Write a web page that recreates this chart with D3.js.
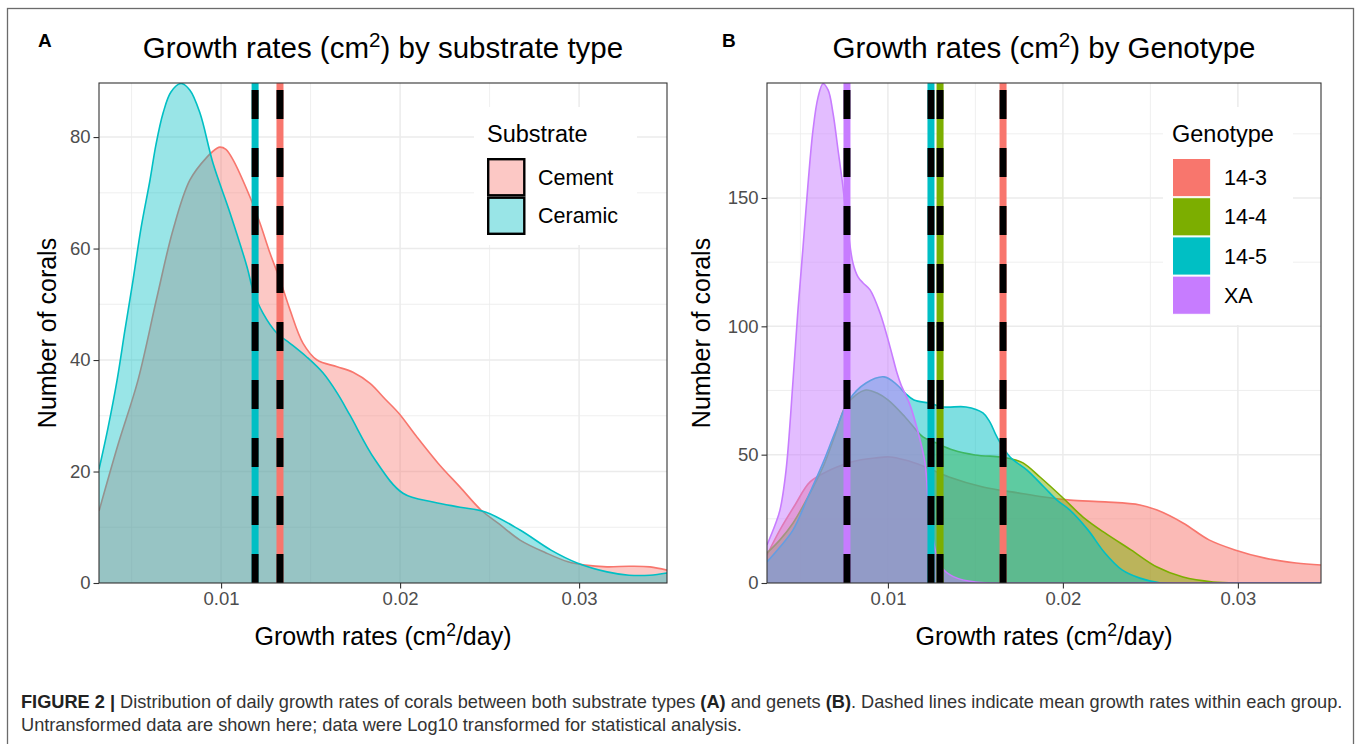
<!DOCTYPE html>
<html>
<head>
<meta charset="utf-8">
<script src="https://cdn.jsdelivr.net/npm/d3@7"></script>
<style>
  body { margin: 0; background: #fff; }
  text { font-family: "Liberation Sans", Arial, Helvetica, sans-serif; }
</style>
</head>
<body>
<div id="chart"></div>
<script>
// ---- data ----
// Panel A: substrate
var substrates = ["Cement", "Ceramic"];
var cementRate = [0.00318,0.00424,0.00536,0.00642,0.00731,0.00826,0.00921,0.00977,0.00994,0.01027,0.01067,0.01162,0.01217,0.01273,0.01329,0.01385,0.01458,0.01536,0.01648,0.01737,0.01832,0.01916,0.01994,0.02089,0.02212,0.02335,0.02452,0.02553,0.02670,0.02815,0.02938,0.03033,0.03156,0.03279,0.03396,0.03491];
var cementCount = [12.9,24.8,36.4,51.3,63.3,72.3,76.4,78.0,78.2,77.8,75.9,69.2,64.6,59.2,54.4,49.0,43.0,40.0,38.8,37.8,35.8,33.0,30.4,26.4,21.5,17.2,13.1,10.6,7.7,5.4,3.8,3.2,2.9,3.0,2.9,2.3];
var ceramicRate = [0.00318,0.00368,0.00419,0.00463,0.00508,0.00553,0.00603,0.00636,0.00676,0.00720,0.00776,0.00826,0.00882,0.00955,0.01050,0.01145,0.01178,0.01234,0.01312,0.01385,0.01480,0.01569,0.01648,0.01720,0.01860,0.02016,0.02190,0.02335,0.02480,0.02670,0.02843,0.02989,0.03156,0.03279,0.03396,0.03491];
var ceramicCount = [20.4,27.8,36.4,45.4,54.3,63.7,72.3,78.6,84.3,88.1,89.6,88.4,84.3,75.3,66.4,56.7,52.6,48.4,44.8,43.0,40.5,37.7,34.1,30.1,22.1,16.1,14.5,13.6,12.7,9.5,5.9,3.6,2.0,1.4,1.4,1.8];
var substrateMeans = [0.01329, 0.01190];

// Panel B: genotype
var genotypes = ["14-3", "14-4", "14-5", "XA"];
var g143Rate = [0.00309,0.00383,0.00469,0.00555,0.00669,0.00755,0.00840,0.00926,0.01012,0.01098,0.01200,0.01349,0.01543,0.01743,0.01892,0.02040,0.02240,0.02440,0.02538,0.02686,0.02835,0.02983,0.03155,0.03332,0.03475];
var g143Count = [10.9,20.7,30.4,39.4,44.0,46.4,47.9,48.7,49.1,47.9,45.6,41.3,37.4,35.1,33.5,32.3,31.6,30.4,28.4,23.4,16.8,12.9,9.7,7.8,7.0];
var g144Rate = [0.00309,0.00383,0.00458,0.00543,0.00629,0.00698,0.00755,0.00818,0.00875,0.00938,0.01000,0.01098,0.01200,0.01275,0.01372,0.01498,0.01646,0.01709,0.01772,0.01869,0.01995,0.02115,0.02240,0.02389,0.02538,0.02686,0.02858,0.03035,0.03475];
var g144Count = [11.7,16.8,23.4,33.5,45.2,57.7,68.6,73.3,75.2,74.0,71.3,64.7,56.9,54.6,51.8,49.9,49.1,48.3,46.8,41.3,33.5,25.7,19.5,12.9,6.2,2.3,0.4,0,0];
var g145Rate = [0.00309,0.00383,0.00458,0.00543,0.00629,0.00703,0.00778,0.00875,0.00978,0.01052,0.01098,0.01149,0.01235,0.01320,0.01446,0.01543,0.01583,0.01623,0.01698,0.01795,0.01892,0.01966,0.02040,0.02143,0.02240,0.02338,0.02440,0.02560,0.03000,0.03475];
var g145Count = [8.2,14.0,20.7,33.5,46.8,59.6,71.3,77.9,80.3,77.2,74.0,71.3,70.1,68.6,68.6,66.3,62.7,56.9,49.1,44.0,37.4,32.3,28.4,20.7,11.7,5.1,1.9,0,0,0];
var xaRate = [0.00309,0.00355,0.00383,0.00418,0.00458,0.00486,0.00515,0.00543,0.00572,0.00600,0.00629,0.00658,0.00686,0.00715,0.00738,0.00772,0.00800,0.00829,0.00858,0.00898,0.00955,0.01012,0.01052,0.01075,0.01126,0.01172,0.01212,0.01235,0.01258,0.01275,0.01320,0.01395,0.01498,0.01583,0.02500,0.03475];
var xaCount = [14.8,22.6,28.4,44.0,79.1,106.4,130.9,155.1,176.5,189.0,194.5,192.1,183.2,168.7,157.1,137.6,124.7,119.3,116.9,114.2,105.2,92.0,81.8,77.2,69.4,58.8,46.8,27.3,17.5,11.7,5.1,1.9,0.4,0,0,0];
var genotypeMeans = [0.01658, 0.01298, 0.01246, 0.00766];

// ticks
var xTicks = [0.01, 0.02, 0.03];
var xMinor = [0.005, 0.015, 0.025, 0.035];
var yTicksA = [0, 20, 40, 60, 80];
var yMinorA = [10, 30, 50, 70];
var yTicksB = [0, 50, 100, 150];
var yMinorB = [25, 75, 125, 175];

var colA = ["#F8766D", "#00BFC4"];
var colB = ["#F8766D", "#7CAE00", "#00BFC4", "#C77CFF"];

var svgWidth = 1358, svgHeight = 744;

var svg = d3.select("#chart").append("svg")
  .attr("width", svgWidth)
  .attr("height", svgHeight);

svg.append("rect").attr("width", svgWidth).attr("height", svgHeight).attr("fill", "#fff");

// figure frame
svg.append("rect")
  .attr("x", 7.5).attr("y", 8.5)
  .attr("width", 1346).attr("height", 760)
  .attr("fill", "none").attr("stroke", "#6b6b6b").attr("stroke-width", 1.3);

// text with a superscript in it
function supText(sel, before, sup, after, size) {
  sel.append("tspan").text(before);
  sel.append("tspan").text(sup).attr("dy", -size * 0.38).attr("font-size", size * 0.7);
  sel.append("tspan").text(after).attr("dy", size * 0.38);
}

function drawPanel(p) {
  var w = p.right - p.left, h = p.bottom - p.top;
  var x = d3.scaleLinear().domain(p.xDomain).range([0, w]);
  var y = d3.scaleLinear().domain([0, p.yMax]).range([h, 0]);

  var g = svg.append("g").attr("transform", `translate(${p.left}, ${p.top})`);

  svg.append("clipPath").attr("id", "clip" + p.id)
    .append("rect").attr("width", w).attr("height", h);

  // gridlines
  var grid = g.append("g").attr("clip-path", `url(#clip${p.id})`);
  grid.selectAll(".xmin").data(xMinor).enter().append("line")
    .attr("x1", d => x(d)).attr("x2", d => x(d)).attr("y1", 0).attr("y2", h)
    .attr("stroke", "#ebebeb").attr("stroke-width", 0.8);
  grid.selectAll(".ymin").data(p.yMinor).enter().append("line")
    .attr("y1", d => y(d)).attr("y2", d => y(d)).attr("x1", 0).attr("x2", w)
    .attr("stroke", "#ebebeb").attr("stroke-width", 0.8);
  grid.selectAll(".xmaj").data(xTicks).enter().append("line")
    .attr("x1", d => x(d)).attr("x2", d => x(d)).attr("y1", 0).attr("y2", h)
    .attr("stroke", "#ebebeb").attr("stroke-width", 1.5);
  grid.selectAll(".ymaj").data(p.yTicks).enter().append("line")
    .attr("y1", d => y(d)).attr("y2", d => y(d)).attr("x1", 0).attr("x2", w)
    .attr("stroke", "#ebebeb").attr("stroke-width", 1.5);

  // densities, each group fill + outline in order
  var plot = g.append("g").attr("clip-path", `url(#clip${p.id})`);
  var curve = d3.curveCatmullRom.alpha(0.5);
  var area = d3.area().x(d => x(d[0])).y0(y(0)).y1(d => y(Math.max(0, d[1]))).curve(curve);
  var line = d3.line().x(d => x(d[0])).y(d => y(d[1])).curve(curve);
  p.series.forEach(function(s) {
    var pts = d3.zip(s.rate, s.count);
    plot.append("path").datum(pts).attr("d", area)
      .attr("fill", s.color).attr("fill-opacity", p.alpha);
    plot.append("path").datum(pts).attr("d", line)
      .attr("fill", "none").attr("stroke", s.color).attr("stroke-width", 1.6);
  });

  // mean lines: coloured line, black dashes over it
  p.means.forEach(function(m, i) {
    plot.append("line")
      .attr("x1", x(m)).attr("x2", x(m)).attr("y1", h).attr("y2", 0)
      .attr("stroke", p.series[i].color).attr("stroke-width", 7);
    plot.append("line")
      .attr("x1", x(m)).attr("x2", x(m)).attr("y1", h).attr("y2", 0)
      .attr("stroke", "#000").attr("stroke-width", 7)
      .attr("stroke-dasharray", "29,29");
  });

  // panel border
  g.append("rect").attr("width", w).attr("height", h)
    .attr("fill", "none").attr("stroke", "#333").attr("stroke-width", 1.1);

  // axes
  var bottomAxis = d3.axisBottom(x).tickValues(xTicks).tickSize(5.5).tickPadding(3)
    .tickFormat(d3.format(".2f"));
  var leftAxis = d3.axisLeft(y).tickValues(p.yTicks).tickSize(5.5).tickPadding(3);
  var xa = g.append("g").attr("transform", `translate(0, ${h})`).call(bottomAxis);
  var ya = g.append("g").call(leftAxis);
  [xa, ya].forEach(function(a) {
    a.select(".domain").remove();
    a.selectAll(".tick line").attr("stroke", "#333").attr("stroke-width", 1.1);
    a.selectAll(".tick text").attr("fill", "#4d4d4d")
      .style("font-size", "18.5px")
      .style("font-family", '"Liberation Sans", Arial, Helvetica, sans-serif');
  });

  // panel letter
  svg.append("text").attr("x", p.letterX).attr("y", 47)
    .style("font-size", "19px").style("font-weight", "bold").text(p.letter);

  // title
  var t = svg.append("text").attr("x", p.left + w / 2).attr("y", 58)
    .attr("text-anchor", "middle").style("font-size", "29.5px");
  supText(t, "Growth rates (cm", "2", ") " + p.titleTail, 29.5);

  // x label
  var xl = svg.append("text").attr("x", p.left + w / 2).attr("y", 645)
    .attr("text-anchor", "middle").style("font-size", "25px");
  supText(xl, "Growth rates (cm", "2", "/day)", 25);

  // y label
  svg.append("text")
    .attr("transform", `translate(${p.yLabelX}, ${p.top + h / 2}) rotate(-90)`)
    .attr("text-anchor", "middle").style("font-size", "25px")
    .text("Number of corals");

  // legend
  var L = p.legend;
  svg.append("rect").attr("x", L.boxX).attr("y", L.boxY)
    .attr("width", L.boxW).attr("height", L.boxH).attr("fill", "#fff");
  svg.append("text").attr("x", L.x).attr("y", 142)
    .style("font-size", "23.5px").text(L.title);
  L.names.forEach(function(n, i) {
    svg.append("rect")
      .attr("x", L.x + L.inset).attr("y", L.keyTop + i * L.keySize + L.inset)
      .attr("width", L.keySize - 2 * L.inset).attr("height", L.keySize - 2 * L.inset)
      .attr("fill", L.fills[i]).attr("stroke", L.stroke).attr("stroke-width", L.strokeW);
    svg.append("text").attr("x", L.labelX)
      .attr("y", L.keyTop + i * L.keySize + L.keySize / 2 + 7.5)
      .style("font-size", "21.5px").text(n);
  });
}

// light fill for legend A keys (alpha over white)
function lighten(c, a) {
  var k = d3.rgb(c);
  return d3.rgb(255 - a * (255 - k.r), 255 - a * (255 - k.g), 255 - a * (255 - k.b)).toString();
}

drawPanel({
  id: "A", letter: "A", letterX: 38, left: 99, right: 667, top: 83, bottom: 583,
  xDomain: [0.00318, 0.03491], yMax: 89.7, yTicks: yTicksA, yMinor: yMinorA,
  alpha: 0.4, titleTail: "by substrate type", yLabelX: 56,
  series: [
    { rate: cementRate, count: cementCount, color: colA[0] },
    { rate: ceramicRate, count: ceramicCount, color: colA[1] }
  ],
  means: substrateMeans,
  legend: {
    title: "Substrate", names: substrates, x: 487, labelX: 538, keyTop: 158, keySize: 38.5,
    inset: 1.2, stroke: "#000", strokeW: 2.4,
    fills: colA.map(c => lighten(c, 0.4)),
    boxX: 474, boxY: 107, boxW: 163, boxH: 138
  }
});

drawPanel({
  id: "B", letter: "B", letterX: 722, left: 767, right: 1321, top: 83, bottom: 583,
  xDomain: [0.00309, 0.03475], yMax: 194.8, yTicks: yTicksB, yMinor: yMinorB,
  alpha: 0.5, titleTail: "by Genotype", yLabelX: 710,
  series: [
    { rate: g143Rate, count: g143Count, color: colB[0] },
    { rate: g144Rate, count: g144Count, color: colB[1] },
    { rate: g145Rate, count: g145Count, color: colB[2] },
    { rate: xaRate, count: xaCount, color: colB[3] }
  ],
  means: genotypeMeans,
  legend: {
    title: "Genotype", names: genotypes, x: 1172, labelX: 1224, keyTop: 158, keySize: 39.2,
    inset: 0.5, stroke: "#fff", strokeW: 1,
    fills: colB,
    boxX: 1163, boxY: 107, boxW: 130, boxH: 218
  }
});

// caption
var cap1 = svg.append("text").attr("x", 21).attr("y", 708)
  .style("font-size", "18.2px").attr("fill", "#333");
cap1.append("tspan").style("font-weight", "bold").attr("fill", "#222").text("FIGURE 2 | ");
cap1.append("tspan").text("Distribution of daily growth rates of corals between both substrate types ");
cap1.append("tspan").style("font-weight", "bold").attr("fill", "#222").text("(A)");
cap1.append("tspan").text(" and genets ");
cap1.append("tspan").style("font-weight", "bold").attr("fill", "#222").text("(B)");
cap1.append("tspan").text(". Dashed lines indicate mean growth rates within each group.");

svg.append("text").attr("x", 21).attr("y", 731)
  .style("font-size", "18.2px").attr("fill", "#333")
  .text("Untransformed data are shown here; data were Log10 transformed for statistical analysis.");
</script>
</body>
</html>
